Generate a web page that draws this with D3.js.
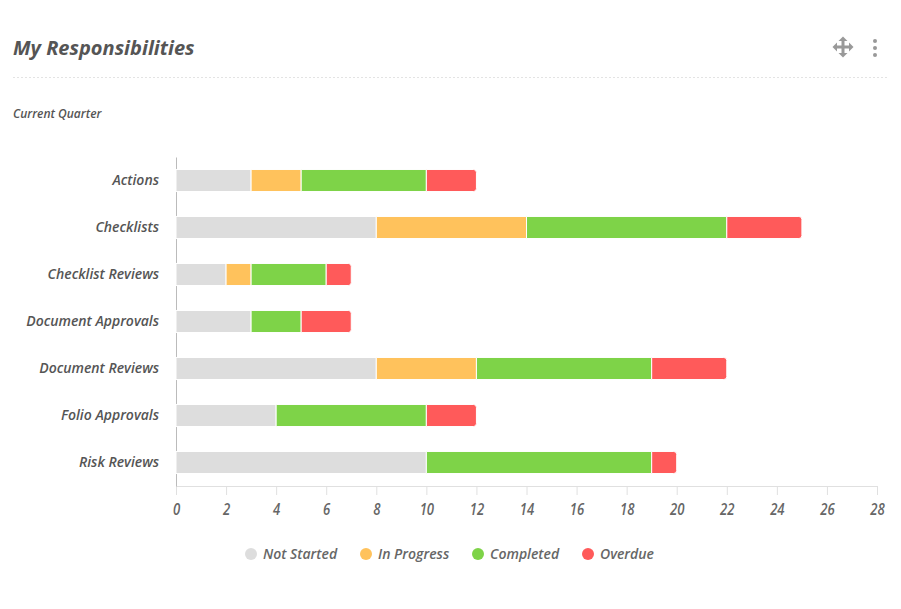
<!DOCTYPE html>
<html>
<head>
<meta charset="utf-8">
<script src="https://cdn.jsdelivr.net/npm/d3@7"></script>
<style>
  body { margin: 0; background: #fff; font-family: "Open Sans", sans-serif; }
  svg text { font-style: italic; }
</style>
</head>
<body>
<svg id="chart" width="901" height="609"></svg>
<script>
// chart data
const categories = ["Actions", "Checklists", "Checklist Reviews", "Document Approvals",
                    "Document Reviews", "Folio Approvals", "Risk Reviews"];
const seriesNames = ["Not Started", "In Progress", "Completed", "Overdue"];
const notStarted = [3, 8, 2, 3, 8, 4, 10];
const inProgress = [2, 6, 1, 0, 4, 0, 0];
const completed  = [5, 8, 3, 2, 7, 6, 9];
const overdue    = [2, 3, 1, 2, 3, 2, 1];
const xTicks = [0, 2, 4, 6, 8, 10, 12, 14, 16, 18, 20, 22, 24, 26, 28];
const colors = ["#dddddd", "#ffc25c", "#7ed348", "#ff5a5a"];

const rows = categories.map((c, i) => ({
  cat: c,
  "Not Started": notStarted[i],
  "In Progress": inProgress[i],
  "Completed": completed[i],
  "Overdue": overdue[i]
}));

const svg = d3.select("#chart");

// header
svg.append("text").attr("x", 13).attr("y", 55)
  .attr("font-size", 20).attr("font-weight", 700).attr("fill", "#555")
  .text("My Responsibilities");
svg.append("line").attr("x1", 13).attr("x2", 887).attr("y1", 77.5).attr("y2", 77.5)
  .attr("stroke", "#e3e3e3").attr("stroke-dasharray", "2,2");
svg.append("text").attr("x", 13).attr("y", 118)
  .attr("font-size", 12).attr("font-weight", 600).attr("fill", "#555")
  .text("Current Quarter");

// icons (move + kebab)
const mv = svg.append("g").attr("transform", "translate(843,47)").attr("fill", "#999").attr("stroke", "#999");
mv.append("line").attr("x1", -6).attr("x2", 6).attr("y1", 0).attr("y2", 0).attr("stroke-width", 3);
mv.append("line").attr("x1", 0).attr("x2", 0).attr("y1", -6).attr("y2", 6).attr("stroke-width", 3);
[[0, -6, 0], [0, 6, 180], [-6, 0, -90], [6, 0, 90]].forEach(([dx, dy, r]) => {
  mv.append("path").attr("d", "M-4.5,0 L0,-4.5 L4.5,0 Z")
    .attr("stroke", "none")
    .attr("transform", `translate(${dx},${dy}) rotate(${r})`);
});
[-7, 0, 7].forEach(dy => {
  svg.append("circle").attr("cx", 875).attr("cy", 48 + dy).attr("r", 2).attr("fill", "#999");
});

// scales
const x = d3.scaleLinear().domain([0, 28]).range([176, 877]);
const y = d3.scaleBand().domain(categories).range([157, 486]).paddingInner(0.53).paddingOuter(0.265);

const stack = d3.stack().keys(seriesNames);
const stacked = stack(rows);

// x axis
const xAxis = svg.append("g").attr("transform", "translate(0,486)")
  .call(d3.axisBottom(x).tickValues(xTicks).tickSize(9).tickPadding(9));
xAxis.select(".domain").attr("stroke", "#e0e0e0");
xAxis.selectAll(".tick line").attr("stroke", "#e0e0e0");
xAxis.selectAll(".tick text").attr("fill", "#666").attr("font-size", 16)
  .attr("font-weight", 600).attr("font-family", "Open Sans")
  .attr("transform", "scale(0.82,1)");

// y axis
const yAxis = svg.append("g").attr("transform", "translate(176,0)")
  .call(d3.axisLeft(y).tickSize(0).tickPadding(17));
yAxis.select(".domain").attr("stroke", "#bbb");
yAxis.selectAll(".tick text").attr("fill", "#555").attr("font-size", 14)
  .attr("font-weight", 600).attr("font-family", "Open Sans");

// bars
const barH = y.bandwidth();
stacked.forEach((layer, si) => {
  layer.forEach((d, i) => {
    const w = x(d[1]) - x(d[0]);
    if (w <= 0) return;
    const x0 = x(d[0]), yy = y(categories[i]);
    const last = seriesNames.slice(si + 1).every(k => rows[i][k] === 0);
    let path;
    if (last) {
      const r = 3;
      path = `M${x0},${yy} H${x0 + w - r} Q${x0 + w},${yy} ${x0 + w},${yy + r} V${yy + barH - r} Q${x0 + w},${yy + barH} ${x0 + w - r},${yy + barH} H${x0} Z`;
    } else {
      path = `M${x0},${yy} H${x0 + w} V${yy + barH} H${x0} Z`;
    }
    svg.append("path").attr("d", path).attr("fill", colors[si])
      .attr("stroke", "#fff").attr("stroke-width", 1);
  });
});

// legend
const legendX = [251, 366, 478, 588];
seriesNames.forEach((s, i) => {
  svg.append("circle").attr("cx", legendX[i]).attr("cy", 554).attr("r", 6).attr("fill", colors[i]);
  svg.append("text").attr("x", legendX[i] + 12).attr("y", 559)
    .attr("font-size", 14).attr("font-weight", 600).attr("fill", "#666")
    .text(s);
});
</script>
</body>
</html>
